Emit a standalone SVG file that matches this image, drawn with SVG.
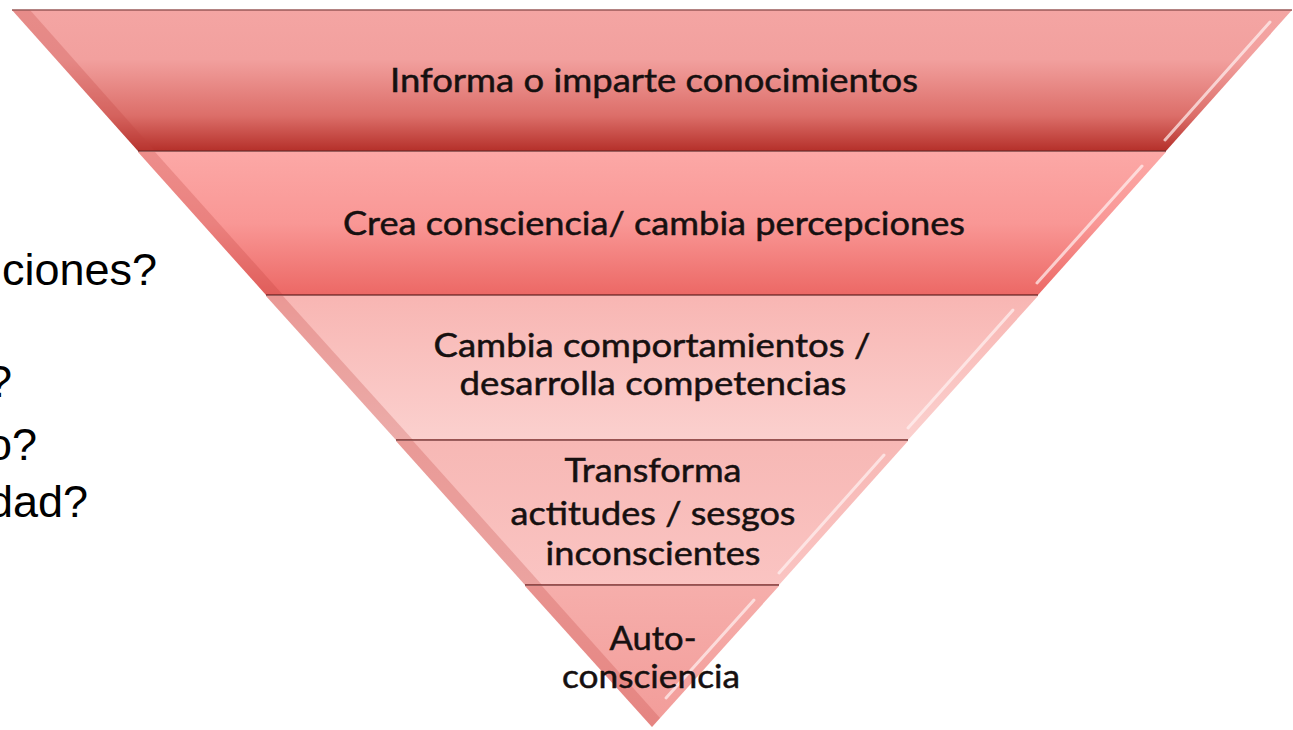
<svg xmlns="http://www.w3.org/2000/svg" width="1293" height="730" viewBox="0 0 1293 730">
<defs>
<linearGradient id="g1" x1="0" y1="0" x2="0" y2="1">
<stop offset="0" stop-color="#f4a5a3"/><stop offset="0.35" stop-color="#f2a09e"/><stop offset="0.75" stop-color="#dc6e69"/><stop offset="1" stop-color="#b5302a"/>
</linearGradient>
<linearGradient id="g2" x1="0" y1="0" x2="0" y2="1">
<stop offset="0" stop-color="#fca8a6"/><stop offset="0.5" stop-color="#f99795"/><stop offset="1" stop-color="#ec6865"/>
</linearGradient>
<linearGradient id="g3" x1="0" y1="0" x2="0" y2="1">
<stop offset="0" stop-color="#f8b6b3"/><stop offset="1" stop-color="#fbd0ce"/>
</linearGradient>
<linearGradient id="g4" x1="0" y1="0" x2="0" y2="1">
<stop offset="0" stop-color="#f7b8b5"/><stop offset="1" stop-color="#fac4c2"/>
</linearGradient>
<linearGradient id="g5" x1="0" y1="0" x2="0" y2="1">
<stop offset="0" stop-color="#f6aeab"/><stop offset="1" stop-color="#f29c99"/>
</linearGradient>
</defs>
<style>
.lbl{font-family:Lato,"Open Sans","Liberation Sans",sans-serif;font-size:33px;fill:#161010;stroke:#161010;stroke-width:0.5;text-anchor:middle}
.side{font-family:"Liberation Sans",Arial,sans-serif;font-size:45px;fill:#000;text-anchor:end}
.edge{stroke:#7a2a28;stroke-width:1.5;fill:none}
.hl{stroke:#fff2f2;stroke-opacity:0.7;stroke-width:3;stroke-linecap:round;fill:none}
.lft{fill:#c0403a;opacity:0.25}
</style>
<rect width="1293" height="730" fill="#ffffff"/>

<g id="side-text">
<text class="side" x="157" y="285">ciones?</text>
<text class="side" x="12" y="397">?</text>
<text class="side" x="37" y="460">o?</text>
<text class="side" x="88" y="517">dad?</text>
</g>

<g id="layer1">
<polygon points="12,10 1292,10 1166,151 138,151" fill="url(#g1)"/>
<polygon points="12,10 30,10 155,151 138,151" class="lft"/>
<line x1="12" y1="10" x2="1292" y2="10" stroke="#9a5a58" stroke-width="1.5"/>
<line x1="138" y1="151" x2="1166" y2="151" class="edge"/>
<line x1="1270" y1="22" x2="1165" y2="140" class="hl"/>
<text class="lbl" x="654" y="92" textLength="528" lengthAdjust="spacingAndGlyphs">Informa o imparte conocimientos</text>
</g>

<g id="layer2">
<polygon points="138,152 1166,152 1038,295 266,295" fill="url(#g2)"/>
<polygon points="138,152 155,152 283,295 266,295" class="lft"/>
<line x1="266" y1="295" x2="1038" y2="295" class="edge"/>
<line x1="1142" y1="166" x2="1037" y2="283" class="hl"/>
<text class="lbl" x="654" y="235" textLength="622" lengthAdjust="spacingAndGlyphs">Crea consciencia/ cambia percepciones</text>
</g>

<g id="layer3">
<polygon points="266,296 1038,296 908,440 396,440" fill="url(#g3)"/>
<polygon points="266,296 283,296 413,440 396,440" class="lft"/>
<line x1="396" y1="440" x2="908" y2="440" class="edge"/>
<line x1="1013" y1="310" x2="908" y2="428" class="hl"/>
<text class="lbl" x="652" y="357" textLength="437" lengthAdjust="spacingAndGlyphs">Cambia comportamientos /</text>
<text class="lbl" x="653" y="395" textLength="387" lengthAdjust="spacingAndGlyphs">desarrolla competencias</text>
</g>

<g id="layer4">
<polygon points="396,441 908,441 779,585 525,585" fill="url(#g4)"/>
<polygon points="396,441 413,441 542,585 525,585" class="lft"/>
<line x1="525" y1="585" x2="779" y2="585" class="edge"/>
<line x1="884" y1="455" x2="779" y2="573" class="hl"/>
<text class="lbl" x="653" y="482" textLength="177" lengthAdjust="spacingAndGlyphs">Transforma</text>
<text class="lbl" x="653" y="525" textLength="285" lengthAdjust="spacingAndGlyphs">actitudes / sesgos</text>
<text class="lbl" x="653" y="565" textLength="215" lengthAdjust="spacingAndGlyphs">inconscientes</text>
</g>

<g id="layer5">
<polygon points="525,586 779,586 652,727" fill="url(#g5)"/>
<polygon points="525,586 542,586 660,718 652,727" class="lft"/>
<line x1="754" y1="600" x2="666" y2="698" class="hl"/>
<text class="lbl" x="653" y="650" textLength="87" lengthAdjust="spacingAndGlyphs">Auto-</text>
<text class="lbl" x="651" y="688" textLength="178" lengthAdjust="spacingAndGlyphs">consciencia</text>
</g>

<g id="connectors"></g>
</svg>
